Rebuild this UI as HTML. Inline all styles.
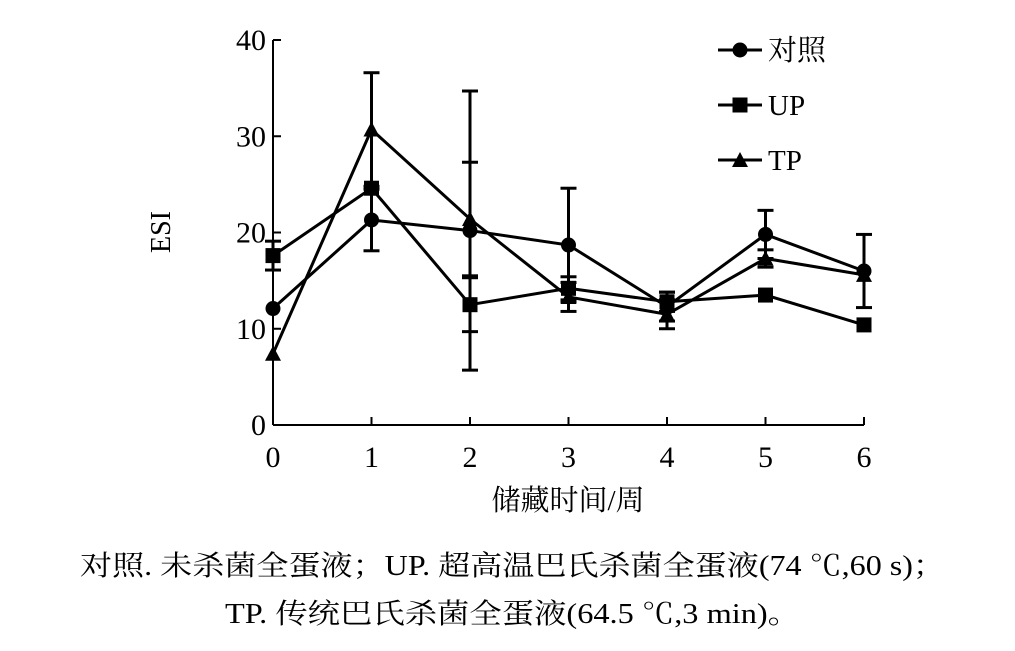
<!DOCTYPE html>
<html><head><meta charset="utf-8"><style>
body{margin:0;background:#fff}
svg text{font-family:"Liberation Serif","Noto Serif CJK SC",serif;fill:#000}
</style></head><body>
<svg width="1015" height="646" viewBox="0 0 1015 646" xmlns="http://www.w3.org/2000/svg">
<g id="axes"></g><g id="plot"></g>
<g id="legend"></g>
<text transform="translate(170,232) rotate(-90)" font-size="28" text-anchor="middle">ESI</text>
<text x="568" y="510" font-size="29" text-anchor="middle">储藏时间/周</text>
<text x="80" y="575" font-size="28" textLength="865" lengthAdjust="spacingAndGlyphs">对照. 未杀菌全蛋液；UP. 超高温巴氏杀菌全蛋液(74 ℃,60 s)；</text>
<text x="225" y="623" font-size="28" textLength="575" lengthAdjust="spacingAndGlyphs">TP. 传统巴氏杀菌全蛋液(64.5 ℃,3 min)。</text>
</svg>
<script>
const weeks=[0,1,2,3,4,5,6];
const yTicks=[0,10,20,30,40];
const seriesNames=["对照","UP","TP"];
const controlVals=[12.1,21.3,20.2,18.7,12.3,19.8,16.0];
const controlErr=[0,3.2,14.5,5.9,1.5,2.5,3.8];
const upVals=[17.6,24.6,12.5,14.2,12.8,13.5,10.4];
const upErr=[1.5,0,2.8,1.2,1.0,0,0];
const tpVals=[7.4,30.7,21.4,13.3,11.5,17.3,15.6];
const tpErr=[0,5.9,5.9,1.5,1.5,0.9,0];
const NS="http://www.w3.org/2000/svg";
const X=v=>273+v*98.5, Y=v=>425-v*9.625;
function mk(t,a,p){const e=document.createElementNS(NS,t);for(const k in a)e.setAttribute(k,a[k]);p.appendChild(e);return e;}
const ax=document.getElementById('axes'),pl=document.getElementById('plot'),lg=document.getElementById('legend');
let l=mk('line',{x1:X(0),y1:Y(40),x2:X(0),y2:Y(0),stroke:'#000','stroke-width':2},ax);

l=mk('line',{x1:X(0),y1:Y(0),x2:X(6),y2:Y(0),stroke:'#000','stroke-width':2},ax);

yTicks.forEach(t=>{mk('line',{x1:X(0),y1:Y(t),x2:X(0)+8,y2:Y(t),stroke:'#000','stroke-width':2},ax);
 const tx=mk('text',{x:X(0)-7,y:Y(t)+10,'font-size':30,'text-anchor':'end'},ax);tx.textContent=t;
 });
weeks.forEach(w=>{mk('line',{x1:X(w),y1:Y(0),x2:X(w),y2:Y(0)-8,stroke:'#000','stroke-width':2},ax);
 const tx=mk('text',{x:X(w),y:Y(0)+42,'font-size':30,'text-anchor':'middle'},ax);tx.textContent=w;
 });
function marker(type,x,y,p){let e;
 if(type==='circle')e=mk('circle',{cx:x,cy:y,r:7.5,fill:'#000'},p);
 else if(type==='square')e=mk('rect',{x:x-7.5,y:y-7.5,width:15,height:15,fill:'#000'},p);
 else e=mk('polygon',{points:`${x},${y-8} ${x+8},${y+7} ${x-8},${y+7}`,fill:'#000'},p);
 return e;}
const all=[[controlVals,controlErr,'circle','control'],[upVals,upErr,'square','up'],[tpVals,tpErr,'triangle','tp']];
all.forEach(([vals,errs,m,nm])=>{
 const g=mk('g',{},pl);
 const pts=vals.map((v,i)=>X(weeks[i])+','+Y(v)).join(' ');
 const pl2=mk('polyline',{points:pts,fill:'none',stroke:'#000','stroke-width':3},g);
 
 vals.forEach((v,i)=>{const x=X(weeks[i]);
  if(errs[i]>0){const eb=mk('g',{stroke:'#000','stroke-width':3},g);
   
   mk('line',{x1:x,y1:Y(v+errs[i]),x2:x,y2:Y(v-errs[i])},eb);
   mk('line',{x1:x-8,y1:Y(v+errs[i]),x2:x+8,y2:Y(v+errs[i])},eb);
   mk('line',{x1:x-8,y1:Y(v-errs[i]),x2:x+8,y2:Y(v-errs[i])},eb);}
  const mm=marker(m,x,Y(v),g);});
});
seriesNames.forEach((n,i)=>{const y=50+i*55;
 const g=mk('g',{},lg);
 mk('line',{x1:718,y1:y,x2:762,y2:y,stroke:'#000','stroke-width':3},g);
 marker(all[i][2],740,y,g);
 const t=mk('text',{x:768,y:y+10,'font-size':29},g);t.textContent=n;});
</script>
</body></html>
